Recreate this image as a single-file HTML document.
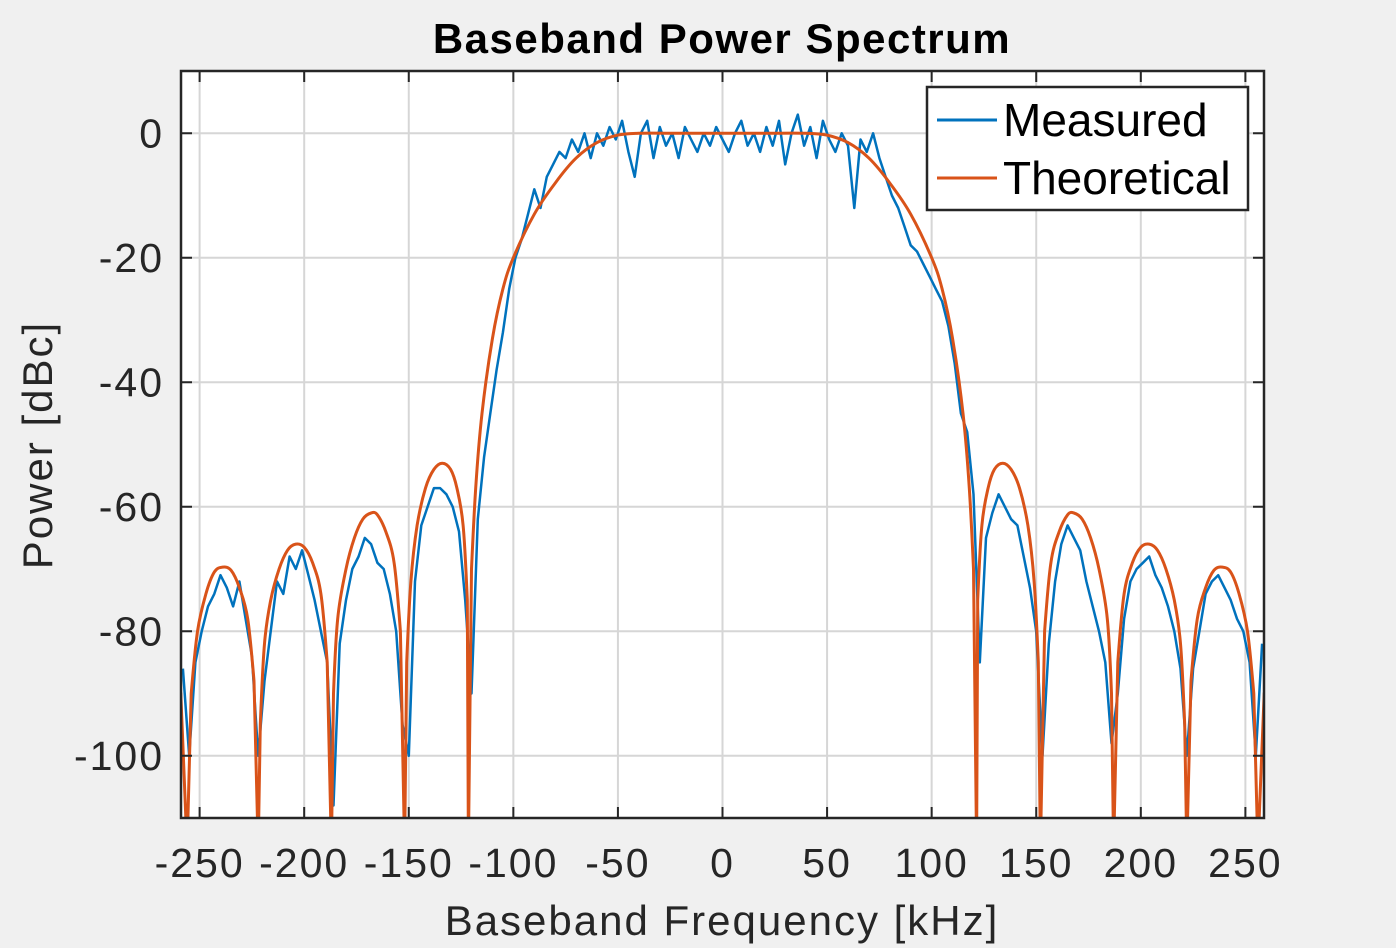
<!DOCTYPE html>
<html><head><meta charset="utf-8"><style>
html,body{margin:0;padding:0;background:#f0f0f0;}
svg{display:block;font-family:"Liberation Sans",Arial,sans-serif;}
</style></head><body>
<svg id="chart" width="1396" height="948" viewBox="0 0 1396 948" xmlns="http://www.w3.org/2000/svg">
<rect width="1396" height="948" fill="#f0f0f0"/>
<rect x="181" y="71" width="1083" height="747" fill="#fff"/>
<g id="grid"></g>
<defs><clipPath id="clip"><rect x="181" y="71" width="1083" height="747"/></clipPath></defs>
<g id="series" clip-path="url(#clip)"></g>
<g id="axes"></g>
<text x="722" y="53" text-anchor="middle" font-size="42" font-weight="bold" letter-spacing="1.5" fill="#000">Baseband Power Spectrum</text>
<text x="722" y="935" text-anchor="middle" font-size="42" letter-spacing="2" fill="#262626">Baseband Frequency [kHz]</text>
<text transform="translate(52,445) rotate(-90)" text-anchor="middle" font-size="42" letter-spacing="2" fill="#262626">Power [dBc]</text>
<g>
<rect x="927" y="87" width="321" height="123" fill="#fff" stroke="#262626" stroke-width="2.5"/>
<line x1="937" y1="120" x2="997" y2="120" stroke="#0072BD" stroke-width="3"/>
<text x="1003" y="136" font-size="46" fill="#000">Measured</text>
<line x1="937" y1="178" x2="997" y2="178" stroke="#D95319" stroke-width="3"/>
<text x="1003" y="194" font-size="46" fill="#000">Theoretical</text>
</g>
</svg>
<script>
const xTicks=[-250,-200,-150,-100,-50,0,50,100,150,200,250];
const yTicks=[0,-20,-40,-60,-80,-100];
const theoFreqHalf=[0,20,40,50,60,70,80,90,100,105,110,115,118,120,121.5,122,124,127,130,134,138,142,146,149,151,152,154,157,161,165,168,172,176,180,184,186,187,189,192,196,200,204,208,212,216,219,221,222,224,227,231,235,239,243,247,251,254,256,259,262];
const theoDbHalf=[0,0,0,-0.3,-1.5,-4,-8,-13,-20,-25,-33,-45,-57,-70,-115,-75,-63,-57,-54,-53,-54,-57,-63,-72,-85,-115,-80,-69,-64,-61.3,-61,-62,-65,-70,-78,-90,-115,-85,-74,-69,-66.5,-66,-67,-70,-75,-82,-95,-115,-88,-78,-73,-70.2,-69.7,-70.5,-74,-80,-90,-115,-90,-85];
const measured=[[-258,-86],[-255,-100],[-252,-85],[-249,-80],[-246,-76],[-243,-74],[-240,-71],[-237,-73],[-234,-76],[-231,-72],[-228,-78],[-225,-84],[-222,-100],[-219,-88],[-216,-80],[-213,-72],[-210,-74],[-207,-68],[-204,-70],[-201,-67],[-198,-71],[-195,-75],[-192,-80],[-189,-85],[-186,-108],[-183,-82],[-180,-75],[-177,-70],[-174,-68],[-171,-65],[-168,-66],[-165,-69],[-162,-70],[-159,-74],[-156,-80],[-153,-95],[-150,-100],[-147,-72],[-144,-63],[-141,-60],[-138,-57],[-135,-57],[-132,-58],[-129,-60],[-126,-64],[-123,-75],[-120,-90],[-117,-62],[-114,-52],[-111,-45],[-108,-38],[-105,-32],[-102,-25],[-99,-20],[-96,-17],[-93,-13],[-90,-9],[-87,-12],[-84,-7],[-81,-5],[-78,-3],[-75,-4],[-72,-1],[-69,-3],[-66,0],[-63,-4],[-60,0],[-57,-2],[-54,1],[-51,-1],[-48,2],[-45,-3],[-42,-7],[-39,0],[-36,2],[-33,-4],[-30,1],[-27,-2],[-24,0],[-21,-4],[-18,1],[-15,-1],[-12,-3],[-9,0],[-6,-2],[-3,1],[0,-1],[3,-3],[6,0],[9,2],[12,-2],[15,0],[18,-3],[21,1],[24,-2],[27,2],[30,-5],[33,0],[36,3],[39,-2],[42,1],[45,-4],[48,2],[51,-1],[54,-3],[57,0],[60,-2],[63,-12],[66,-1],[69,-3],[72,0],[75,-4],[78,-7],[81,-10],[84,-12],[87,-15],[90,-18],[93,-19],[96,-21],[99,-23],[102,-25],[105,-27],[108,-31],[111,-37],[114,-45],[117,-48],[120,-58],[123,-85],[126,-65],[129,-61],[132,-58],[135,-60],[138,-62],[141,-63],[144,-68],[147,-73],[150,-80],[153,-100],[156,-82],[159,-72],[162,-66],[165,-63],[168,-65],[171,-67],[174,-72],[177,-76],[180,-80],[183,-85],[186,-98],[189,-90],[192,-78],[195,-72],[198,-70],[201,-69],[204,-68],[207,-71],[210,-73],[213,-76],[216,-80],[219,-86],[222,-100],[225,-86],[228,-80],[231,-74],[234,-72],[237,-71],[240,-73],[243,-75],[246,-78],[249,-80],[252,-85],[255,-100],[258,-82]];

const L=181,R=1264,T=71,B=818,XMIN=-258.9,XMAX=258.9,YMIN=-110,YMAX=10;
const xs=v=>L+(v-XMIN)/(XMAX-XMIN)*(R-L);
const ys=v=>B-(v-YMIN)/(YMAX-YMIN)*(B-T);
const NS="http://www.w3.org/2000/svg";
function mk(tag,attrs,parent){const e=document.createElementNS(NS,tag);for(const k in attrs)e.setAttribute(k,attrs[k]);parent.appendChild(e);return e;}
const grid=document.getElementById('grid'),axes=document.getElementById('axes'),series=document.getElementById('series');
xTicks.forEach(t=>{
  const g=mk('line',{x1:xs(t),x2:xs(t),y1:T,y2:B,stroke:'#d6d6d6','stroke-width':2},grid);
  
  
  mk('line',{x1:xs(t),x2:xs(t),y1:B,y2:B-11,stroke:'#262626','stroke-width':2},axes);
  mk('line',{x1:xs(t),x2:xs(t),y1:T,y2:T+11,stroke:'#262626','stroke-width':2},axes);
  const tx=mk('text',{x:xs(t),y:877,'text-anchor':'middle','font-size':41,'letter-spacing':2,fill:'#262626'},axes);
  tx.textContent=String(t);
  
  
});
yTicks.forEach(t=>{
  const g=mk('line',{x1:L,x2:R,y1:ys(t),y2:ys(t),stroke:'#d6d6d6','stroke-width':2},grid);
  
  
  mk('line',{x1:L,x2:L+11,y1:ys(t),y2:ys(t),stroke:'#262626','stroke-width':2},axes);
  mk('line',{x1:R,x2:R-11,y1:ys(t),y2:ys(t),stroke:'#262626','stroke-width':2},axes);
  const tx=mk('text',{x:164,y:ys(t)+14,'text-anchor':'end','font-size':41,'letter-spacing':2,fill:'#262626'},axes);
  tx.textContent=String(t);
  
  
});
const box=mk('rect',{x:L,y:T,width:R-L,height:B-T,fill:'none',stroke:'#262626','stroke-width':2.5},axes);


const mp=measured.map((p,i)=>(i?'L':'M')+xs(p[0]).toFixed(1)+','+ys(p[1]).toFixed(1)).join('');
const m=mk('path',{d:mp,fill:'none',stroke:'#0072BD','stroke-width':2.5,'stroke-linejoin':'round'},series);


const tf=[],td=[];
for(let i=theoFreqHalf.length-1;i>0;i--){tf.push(-theoFreqHalf[i]);td.push(theoDbHalf[i]);}
for(let i=0;i<theoFreqHalf.length;i++){tf.push(theoFreqHalf[i]);td.push(theoDbHalf[i]);}
const pts=tf.map((f,i)=>[xs(f),ys(td[i])]);
let d='M'+pts[0][0].toFixed(1)+','+pts[0][1].toFixed(1);
for(let i=0;i<pts.length-1;i++){
  const p0=pts[Math.max(0,i-1)],p1=pts[i],p2=pts[i+1],p3=pts[Math.min(pts.length-1,i+2)];
  const sharp=td[i]<=-110||td[i+1]<=-110;
  if(sharp){d+='L'+p2[0].toFixed(1)+','+p2[1].toFixed(1);continue;}
  const c1=[p1[0]+(p2[0]-p0[0])/6,p1[1]+(p2[1]-p0[1])/6];
  const c2=[p2[0]-(p3[0]-p1[0])/6,p2[1]-(p3[1]-p1[1])/6];
  if(td[i-1]<=-110)c1[0]=p1[0],c1[1]=p1[1];
  if(td[i+2]<=-110)c2[0]=p2[0],c2[1]=p2[1];
  d+='C'+c1.map(v=>v.toFixed(1)).join(',')+' '+c2.map(v=>v.toFixed(1)).join(',')+' '+p2[0].toFixed(1)+','+p2[1].toFixed(1);
}
const th=mk('path',{d:d,fill:'none',stroke:'#D95319','stroke-width':3,'stroke-linejoin':'round'},series);


</script>
</body></html>
